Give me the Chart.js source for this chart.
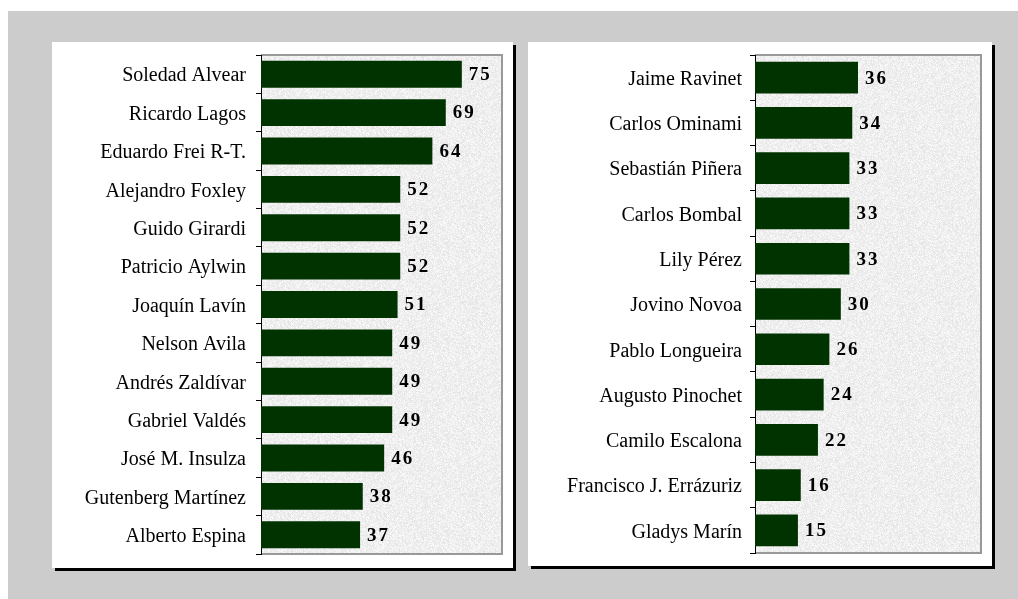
<!DOCTYPE html>
<html>
<head>
<meta charset="utf-8">
<script src="https://cdn.jsdelivr.net/npm/chart.js"></script>
<style>
  html, body { margin: 0; padding: 0; background: #fff; }
  body { width: 1018px; height: 599px; position: relative; overflow: hidden; }
  #bg { position: absolute; left: 8px; top: 11px; right: 0; bottom: 0; background: #cccccc; }
  .panel { position: absolute; background: #fff; box-shadow: 3px 3px 0 #000; }
  #p1 { left: 52px; top: 42px; width: 461px; height: 526px; }
  #p2 { left: 528px; top: 42px; width: 464px; height: 524px; }
  canvas { display: block; }
</style>
</head>
<body>
<div id="bg"></div>
<div class="panel" id="p1"><canvas id="c1" width="461" height="526"></canvas></div>
<div class="panel" id="p2"><canvas id="c2" width="464" height="524"></canvas></div>
<script>
// left chart
var names1 = ['Soledad Alvear', 'Ricardo Lagos', 'Eduardo Frei R-T.', 'Alejandro Foxley', 'Guido Girardi',
  'Patricio Aylwin', 'Joaquín Lavín', 'Nelson Avila', 'Andrés Zaldívar', 'Gabriel Valdés',
  'José M. Insulza', 'Gutenberg Martínez', 'Alberto Espina'];
var values1 = [75, 69, 64, 52, 52, 52, 51, 49, 49, 49, 46, 38, 37];

// right chart
var names2 = ['Jaime Ravinet', 'Carlos Ominami', 'Sebastián Piñera', 'Carlos Bombal', 'Lily Pérez',
  'Jovino Novoa', 'Pablo Longueira', 'Augusto Pinochet', 'Camilo Escalona', 'Francisco J. Errázuriz',
  'Gladys Marín'];
var values2 = [36, 34, 33, 33, 33, 30, 26, 24, 22, 16, 15];

// speckled grey texture for the plot area
function makeTexture() {
  var c = document.createElement('canvas');
  c.width = 96; c.height = 96;
  var g = c.getContext('2d');
  var img = g.createImageData(96, 96);
  var seed = 12345;
  function rnd() { seed = (seed * 1103515245 + 12345) % 2147483648; return seed / 2147483648; }
  for (var i = 0; i < 96 * 96; i++) {
    var v = Math.round(239 + (rnd() - 0.5) * 24);
    img.data[i * 4] = v; img.data[i * 4 + 1] = v; img.data[i * 4 + 2] = v; img.data[i * 4 + 3] = 255;
  }
  g.putImageData(img, 0, 0);
  return c;
}
var tex = makeTexture();

var areaPlugin = {
  id: 'area',
  beforeDraw: function(chart) {
    var ctx = chart.ctx, a = chart.chartArea;
    ctx.save();
    ctx.fillStyle = ctx.createPattern(tex, 'repeat');
    ctx.fillRect(a.left, a.top, a.right - a.left, a.bottom - a.top);
    ctx.strokeStyle = '#999999';
    ctx.lineWidth = 2;
    ctx.beginPath();
    ctx.moveTo(a.left, a.top);
    ctx.lineTo(a.right, a.top);
    ctx.lineTo(a.right, a.bottom);
    ctx.lineTo(a.left, a.bottom);
    ctx.stroke();
    ctx.restore();
  }
};

var valuePlugin = {
  id: 'vals',
  afterDatasetsDraw: function(chart) {
    var ctx = chart.ctx;
    var meta = chart.getDatasetMeta(0);
    ctx.save();
    ctx.font = 'bold 19px "Liberation Serif"';
    ctx.letterSpacing = '2px';
    ctx.fillStyle = '#000';
    ctx.textAlign = 'left';
    ctx.textBaseline = 'middle';
    meta.data.forEach(function(bar, i) {
      ctx.fillText(String(chart.data.datasets[0].data[i]), bar.x + 7, bar.y + 1);
    });
    ctx.restore();
  }
};

function makeChart(id, labels, values, maxX, axisW, pad, tickPad) {
  return new Chart(document.getElementById(id), {
    type: 'bar',
    data: {
      labels: labels,
      datasets: [{
        data: values,
        backgroundColor: '#003300',
        borderWidth: 0,
        barPercentage: 0.7,
        categoryPercentage: 1
      }]
    },
    options: {
      indexAxis: 'y',
      responsive: false,
      animation: false,
      devicePixelRatio: 1,
      layout: { padding: pad },
      plugins: { legend: { display: false }, tooltip: { enabled: false } },
      scales: {
        x: { display: false, min: 0, max: maxX },
        y: {
          afterFit: function(s) { s.width = axisW; s.paddingTop = 0; s.paddingBottom = 0; },
          border: { display: true, color: '#000', width: 1 },
          grid: { drawOnChartArea: false, tickLength: 5, color: '#000', offset: true },
          ticks: { color: '#000', padding: tickPad, labelOffset: 2, font: { family: 'Liberation Serif', size: 20 } }
        }
      }
    },
    plugins: [areaPlugin, valuePlugin]
  });
}

makeChart('c1', names1, values1, 90, 209, { left: 0, top: 13, right: 11, bottom: 14 }, 10);
makeChart('c2', names2, values2, 79, 227, { left: 0, top: 13, right: 11, bottom: 13 }, 8);
</script>
</body>
</html>
